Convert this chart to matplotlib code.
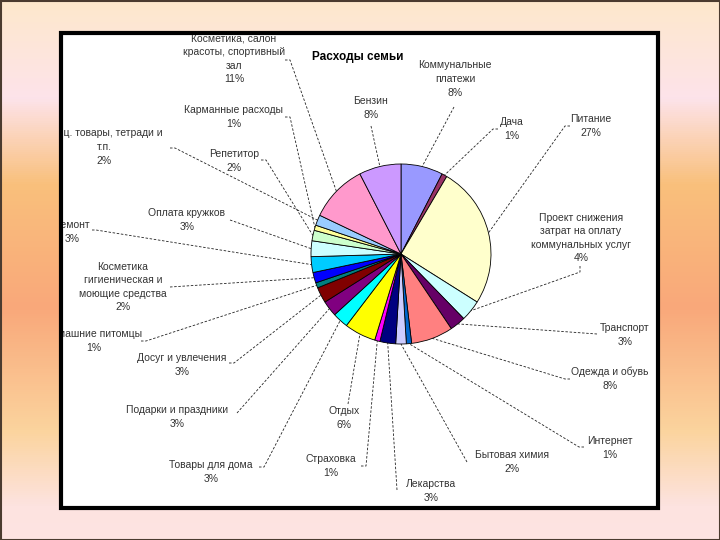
import numpy as np
import matplotlib
matplotlib.use("Agg")
import matplotlib.pyplot as plt
from matplotlib.patches import Rectangle
from matplotlib.colors import LinearSegmentedColormap

W, H = 720, 540

# ----------------------------------------------------------------------
# Data (clockwise from 12 o'clock)
# ----------------------------------------------------------------------
categories = [
    "Коммунальные\nплатежи", "Дача", "Питание",
    "Проект снижения\nзатрат на оплату\nкоммунальных услуг",
    "Транспорт", "Одежда и обувь", "Интернет", "Бытовая химия",
    "Лекарства", "Страховка", "Отдых", "Товары для дома",
    "Подарки и праздники", "Досуг и увлечения", "Домашние питомцы",
    "Косметика\nгигиеническая и\nмоющие средства",
    "Ремонт", "Оплата кружков", "Репетитор", "Карманные расходы",
    "Канц. товары, тетради и\nт.п.",
    "Косметика, салон\nкрасоты, спортивный\nзал",
    "Бензин",
]
shares = [8, 1, 27, 4, 3, 8, 1, 2, 3, 1, 6, 3, 3, 3, 1, 2, 3, 3, 2, 1, 2, 11, 8]
colors = [
    "#9999FF", "#993366", "#FFFFCC", "#CCFFFF", "#660066", "#FF8080",
    "#0066CC", "#CCCCFF", "#000080", "#FF00FF", "#FFFF00", "#00FFFF",
    "#800080", "#800000", "#008080", "#0000FF", "#00CCFF", "#CCFFFF",
    "#CCFFCC", "#FFFF99", "#99CCFF", "#FF99CC", "#CC99FF",
]

# ----------------------------------------------------------------------
# Layout, in image pixels (y measured from the top)
# ----------------------------------------------------------------------
label_xy = [
    (455, 79), (512, 129), (591, 126), (581, 238), (625, 335),
    (610, 379), (610, 448), (512, 462), (431, 491), (331, 466),
    (344, 418), (211, 472), (177, 417), (182, 365), (94, 341),
    (123, 287), (72, 232), (187, 220), (234, 161), (234, 117),
    (104, 147), (234, 59), (371, 108),
]
leader_xy = [
    (454, 107), (493, 129), (565, 126), (580, 272), (597, 334),
    (565, 379), (579, 447), (467, 462), (397, 490), (366, 466),
    (348, 404), (264, 467), (237, 413), (234, 363), (146, 341),
    (170, 287), (96, 230), (230, 220), (266, 160), (290, 117),
    (175, 148), (290, 60), (371, 126),
]
leader_tick = [
    (0, 0), (5, 0), (5, 0), (0, -6), (0, 0),
    (5, 0), (5, 0), (0, 0), (0, 0), (-5, 0),
    (0, 0), (-5, 0), (0, 0), (-5, 0), (-5, 0),
    (0, 0), (-4, 0), (0, 0), (-5, 0), (-5, 0),
    (-5, 0), (-5, 0), (0, 0),
]
pie_center = (401, 254)
pie_radius = 90
box = (61, 33, 658, 508)

bg_stops = [
    (0.00, "#FDE8CC"), (0.18, "#FDE3EA"), (0.34, "#F9C07C"),
    (0.57, "#F9A87A"), (0.80, "#FBD49E"), (0.94, "#FDE3E0"), (1.00, "#FDE4E2"),
]


def Y(y):
    return H - y


fig = plt.figure(figsize=(W / 100, H / 100), dpi=100)
ax = fig.add_axes([0, 0, 1, 1])
ax.set_axis_off()

# background gradient
cmap = LinearSegmentedColormap.from_list("bg", bg_stops)
ax.imshow(np.linspace(0, 1, H).reshape(-1, 1), cmap=cmap, aspect="auto",
          extent=(0, W, 0, H), origin="upper", zorder=0)
ax.add_patch(Rectangle((0.5, 0.5), W - 1, H - 1, fill=False,
                       edgecolor="#4b3b2f", lw=1.5, zorder=1))

# white chart box with black frame
x0, y0, x1, y1 = box
frame = Rectangle((x0, Y(y1)), x1 - x0, y1 - y0, facecolor="white",
                  edgecolor="black", lw=3, zorder=1)
ax.add_patch(frame)
clip = Rectangle((x0 + 2, Y(y1) + 2), x1 - x0 - 4, y1 - y0 - 4,
                 transform=ax.transData)

wedges, _ = ax.pie(shares, colors=colors, startangle=90, counterclock=False,
                   center=(pie_center[0], Y(pie_center[1])), radius=pie_radius,
                   wedgeprops=dict(edgecolor="black", linewidth=0.6))
for w in wedges:
    w.set_zorder(3)

ax.set_xlim(0, W)
ax.set_ylim(0, H)
ax.set_aspect("equal")

font = ["Liberation Sans", "DejaVu Sans"]
for w, name, pct, (tx, ty), (sx, sy), (dx, dy) in zip(
        wedges, categories, shares, label_xy, leader_xy, leader_tick):
    mid = np.deg2rad((w.theta1 + w.theta2) / 2)
    ax_ = pie_center[0] + pie_radius * np.cos(mid)
    ay_ = Y(pie_center[1]) + pie_radius * np.sin(mid)
    ax.plot([sx + dx, sx, ax_], [Y(sy + dy), Y(sy), ay_], color="#222222",
            lw=0.6, ls=(0, (3, 2)), zorder=2)
    t = ax.text(tx, Y(ty), f"{name}\n{pct}%", ha="center", va="center",
                fontsize=7.5, color="#333333", family=font, linespacing=1.45,
                zorder=4, clip_on=True)
    t.set_clip_path(clip)

ax.text(358, Y(57), "Расходы семьи", ha="center", va="center", fontsize=8.5,
        fontweight="bold", color="black", family=font, zorder=4)

fig.savefig("out.png", dpi=100)
